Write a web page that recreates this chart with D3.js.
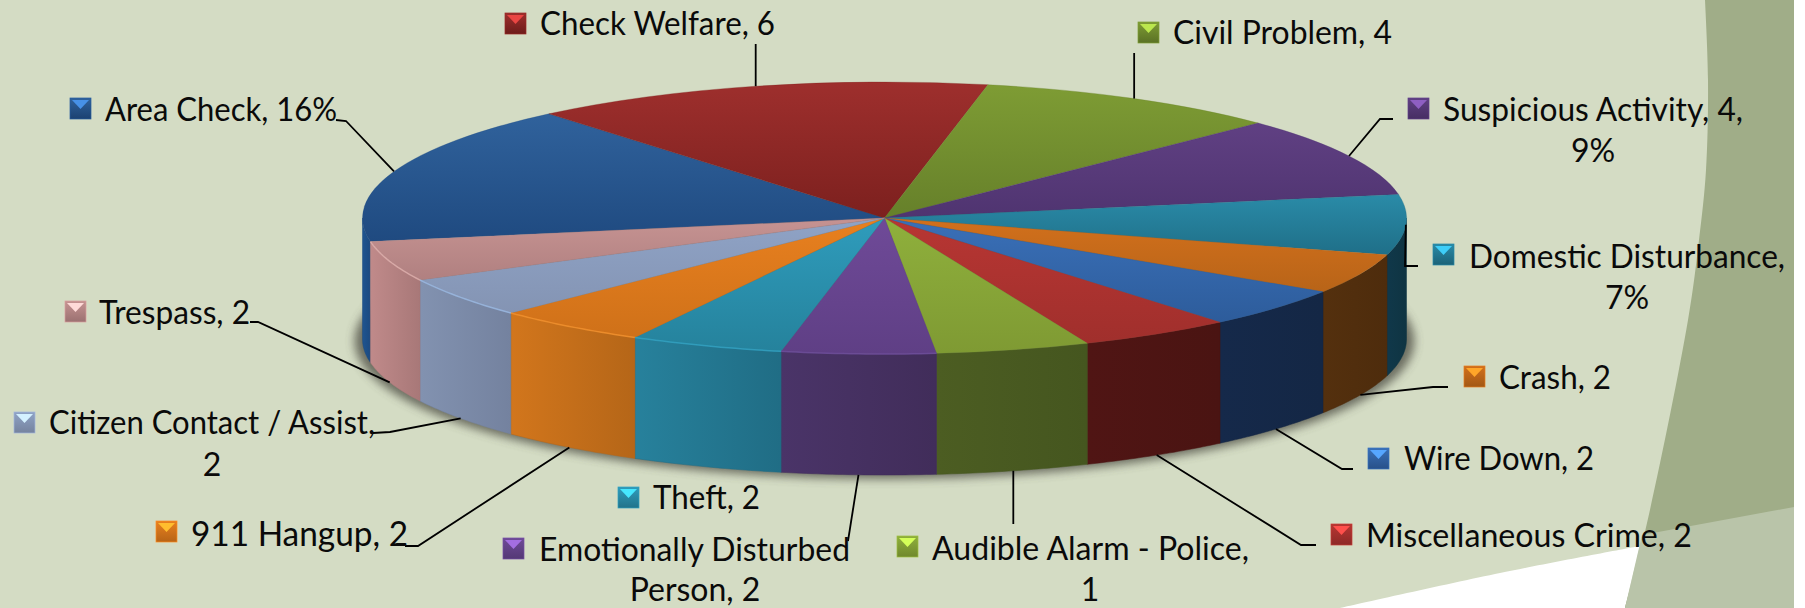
<!DOCTYPE html>
<html>
<head>
<meta charset="utf-8">
<script src="https://cdn.jsdelivr.net/npm/d3@7"></script>
<style>
    html, body { margin: 0; padding: 0; background: #fff; }
    svg { display: block; }
    text { font-family: Lato, "Open Sans", sans-serif; fill: #0a0a0a; }
</style>
</head>
<body>
<div id="chart-area"></div>
<script>
// slices, clockwise from Area Check
const categories = ["Area Check", "Check Welfare", "Civil Problem", "Suspicious Activity",
    "Domestic Disturbance", "Crash", "Wire Down", "Miscellaneous Crime", "Audible Alarm - Police",
    "Emotionally Disturbed Person", "Theft", "911 Hangup", "Citizen Contact / Assist", "Trespass"];
const sliceValues = [7, 6, 4, 4, 3, 2, 2, 2, 2, 2, 2, 2, 2, 2];
// label text as printed, one entry per line
const labelLines = [
    ["Area Check, 16%"], ["Check Welfare, 6"], ["Civil Problem, 4"], ["Suspicious Activity, 4,", "9%"],
    ["Domestic Disturbance,", "7%"], ["Crash, 2"], ["Wire Down, 2"], ["Miscellaneous Crime, 2"],
    ["Audible Alarm - Police,", "1"], ["Emotionally Disturbed", "Person, 2"], ["Theft, 2"],
    ["911 Hangup, 2"], ["Citizen Contact / Assist,", "2"], ["Trespass, 2"]
];

// colours: light / dark end of the top face, side face left / right
const topLight = ["#30629c", "#9e2f2d", "#7e9c34", "#604083", "#2a8ba8", "#d2701c", "#3a70b8", "#b83633", "#8fb03c", "#6f4a98", "#2f9cbc", "#e8801f", "#8fa3c6", "#c69392"];
const topDark = ["#1f4a80", "#7c201e", "#66802a", "#4f3470", "#1f6f88", "#b86418", "#2d5c9b", "#a02f2c", "#7f9a33", "#5f3f85", "#25829c", "#cf7119", "#8494b3", "#b08080"];
const sideLeft = ["#1f5490", "#7c201e", "#66802a", "#4f3470", "#10384a", "#54300e", "#15294a", "#501514", "#4c5d22", "#4a3468", "#27819c", "#d2761c", "#8292b0", "#c08a8a"];
const sideRight = ["#1b4a80", "#7c201e", "#66802a", "#4f3470", "#0f3442", "#4e2c0c", "#142745", "#4a1412", "#45561f", "#412d5a", "#206d85", "#b56618", "#74829f", "#a87878"];
const rimColors = [null, null, null, null, null, null, null, null, null, "#6f4f9e", "#33a4c4", "#f5932f", "#9cbbe6", "#e0b0ae"];

// label layout: key box, text start, baseline, fitted width, centre of second line
const labelLayout = [
    {key: [70, 98], x: 105, y: 121, w: 232},
    {key: [505, 13], x: 540, y: 35, w: 235},
    {key: [1138, 22], x: 1173, y: 44, w: 219},
    {key: [1408, 98], x: 1443, y: 121, w: 300, cx: 1593, y2: 162},
    {key: [1433, 244], x: 1469, y: 268, w: 316, cx: 1627, y2: 309},
    {key: [1464, 366], x: 1499, y: 389, w: 112},
    {key: [1368, 448], x: 1404, y: 470, w: 190},
    {key: [1331, 524], x: 1366, y: 547, w: 326},
    {key: [897, 536], x: 932, y: 560, w: 317, cx: 1090, y2: 601},
    {key: [503, 538], x: 539, y: 561, w: 311, cx: 695, y2: 601},
    {key: [618, 487], x: 653, y: 509, w: 107},
    {key: [156, 521], x: 191, y: 546, w: 217, size: 35},
    {key: [14, 412], x: 49, y: 434, w: 326, cx: 212, y2: 476},
    {key: [65, 301], x: 99, y: 324, w: 151}
];
// leader elbows after the slice anchor (null x = straight up from the anchor)
const leaderElbows = [
    [[346, 121], [336, 120]], [[null, 44]], [[null, 53]], [[1380, 119], [1393, 119]],
    [[1405, 266], [1418, 266]], [[1433, 387], [1448, 387]], [[1342, 469], [1353, 469]],
    [[1301, 545], [1316, 545]], [[null, 524]], [[848, 541]], null,
    [[418, 546], [405, 546]], [[390, 432], [373, 433]], [[258, 322], [250, 322]]
];

const width = 1805;
const height = 608;
const cx = 884.5, cy = 218, rx = 522, ry = 136, depth = 121;
const startDeg = 260;

const svg = d3.select("#chart-area").append("svg")
    .attr("width", width)
    .attr("height", height);
const defs = svg.append("defs");

// slide background behind the chart
svg.append("rect").attr("width", 1794).attr("height", height).attr("fill", "#d4dcc4");
const bgLine = d3.line().curve(d3.curveCatmullRom);
svg.append("path")
    .attr("d", bgLine([[1340, 608], [1500, 573], [1640, 546]]) + "L1625,608Z")
    .attr("fill", "#fff");
svg.append("path")
    .attr("d", bgLine([[1705, 0], [1708, 80], [1706, 170], [1699, 240], [1688, 320], [1647, 523], [1625, 608]]) + "L1794,608L1794,0Z")
    .attr("fill", "#a0ad88");
svg.append("path")
    .attr("d", "M1642,535L1794,507L1794,608L1625,608Z")
    .attr("fill", "#b9c4a9");

const pie = d3.pie().sort(null)
    .startAngle(startDeg * Math.PI / 180)
    .endAngle((startDeg + 360) * Math.PI / 180);
const slices = pie(sliceValues);
const arc = d3.arc().innerRadius(0).outerRadius(rx);
const px = (a) => cx + rx * Math.sin(a);
const py = (a) => cy - ry * Math.cos(a);

// soft shadow under the drum
const blur = defs.append("filter").attr("id", "blur")
    .attr("x", "-5%").attr("y", "-10%").attr("width", "110%").attr("height", "120%");
blur.append("feGaussianBlur").attr("stdDeviation", 5);
svg.append("ellipse")
    .attr("cx", cx).attr("cy", cy + depth + 2)
    .attr("rx", rx + 8).attr("ry", ry + 2)
    .attr("fill", "#4a4a40").attr("opacity", 0.75)
    .attr("filter", "url(#blur)");

// side wall, only the part of each slice facing the viewer
// the angles run past 360 degrees, so the front half is tried twice
slices.forEach((d, i) => {
    [0, 2 * Math.PI].forEach((turn) => {
        const lo = Math.max(d.startAngle, Math.PI / 2 + turn);
        const hi = Math.min(d.endAngle, 3 * Math.PI / 2 + turn);
        if (hi <= lo) return;
        const grad = defs.append("linearGradient").attr("id", "side" + i);
        grad.append("stop").attr("offset", 0).attr("stop-color", sideLeft[i]);
        grad.append("stop").attr("offset", 1).attr("stop-color", sideRight[i]);
        const steps = d3.range(0, 31).map((k) => lo + (hi - lo) * k / 30);
        const pts = steps.map((a) => [px(a), py(a)])
            .concat(steps.slice().reverse().map((a) => [px(a), py(a) + depth]));
        svg.append("path")
            .attr("d", d3.line()(pts) + "Z")
            .attr("fill", "url(#side" + i + ")")
            .attr("stroke", sideRight[i]).attr("stroke-width", 0.5);
    });
});

// top face: d3.arc squashed into an ellipse
const topFace = svg.append("g").attr("transform", `translate(${cx},${cy}) scale(1,${ry / rx})`);
slices.forEach((d, i) => {
    const grad = defs.append("linearGradient").attr("id", "top" + i)
        .attr("x1", 0).attr("x2", 0).attr("y1", 0).attr("y2", 1);
    grad.append("stop").attr("offset", 0).attr("stop-color", topLight[i]);
    grad.append("stop").attr("offset", 1).attr("stop-color", topDark[i]);
    topFace.append("path")
        .attr("d", arc(d))
        .attr("fill", "url(#top" + i + ")")
        .attr("stroke", topDark[i]).attr("stroke-width", 0.5);
});

// light rim on the left front edge
slices.forEach((d, i) => {
    if (!rimColors[i]) return;
    const pts = d3.range(0, 21).map((k) => {
        const a = d.startAngle + (d.endAngle - d.startAngle) * k / 20;
        return [px(a), py(a)];
    });
    svg.append("path")
        .attr("d", d3.line()(pts))
        .attr("fill", "none")
        .attr("stroke", rimColors[i]).attr("stroke-width", 1.5).attr("opacity", 0.8);
});

// leader lines
slices.forEach((d, i) => {
    const elbows = leaderElbows[i];
    if (!elbows) return;
    const mid = (d.startAngle + d.endAngle) / 2;
    const drop = Math.cos(mid) < -0.2 ? depth : 0;
    const anchor = [px(mid), py(mid) + drop];
    const pts = [anchor].concat(elbows.map((p) => [p[0] === null ? anchor[0] : p[0], p[1]]));
    svg.append("path")
        .attr("d", d3.line()(pts))
        .attr("fill", "none")
        .attr("stroke", "#000").attr("stroke-width", 1.8);
});

// legend keys with the little bevel, then the label text
const keySize = 21;
categories.forEach((name, i) => {
    const l = labelLayout[i];
    const grad = defs.append("linearGradient").attr("id", "key" + i)
        .attr("x1", 0).attr("x2", 0).attr("y1", 0).attr("y2", 1);
    grad.append("stop").attr("offset", 0).attr("stop-color", topLight[i]);
    grad.append("stop").attr("offset", 1).attr("stop-color", d3.rgb(topDark[i]).darker(0.35));
    const g = svg.append("g").attr("class", "key").attr("transform", `translate(${l.key[0]},${l.key[1]})`);
    g.append("rect")
        .attr("width", keySize).attr("height", keySize)
        .attr("fill", "url(#key" + i + ")")
        .attr("stroke", d3.rgb(topDark[i]).brighter(0.6)).attr("stroke-width", 0.7);
    g.append("path")
        .attr("d", d3.line()([[2, 2], [keySize - 2, 2], [keySize / 2, keySize * 0.52]]) + "Z")
        .attr("fill", d3.rgb(topLight[i]).brighter(1.1));

    const size = l.size || 32;
    svg.append("text")
        .attr("x", l.x).attr("y", l.y)
        .attr("font-size", size)
        .attr("textLength", l.w).attr("lengthAdjust", "spacingAndGlyphs")
        .text(labelLines[i][0]);
    if (labelLines[i][1]) {
        svg.append("text")
            .attr("x", l.cx).attr("y", l.y2)
            .attr("font-size", size)
            .attr("text-anchor", "middle")
            .text(labelLines[i][1]);
    }
});
</script>
</body>
</html>
